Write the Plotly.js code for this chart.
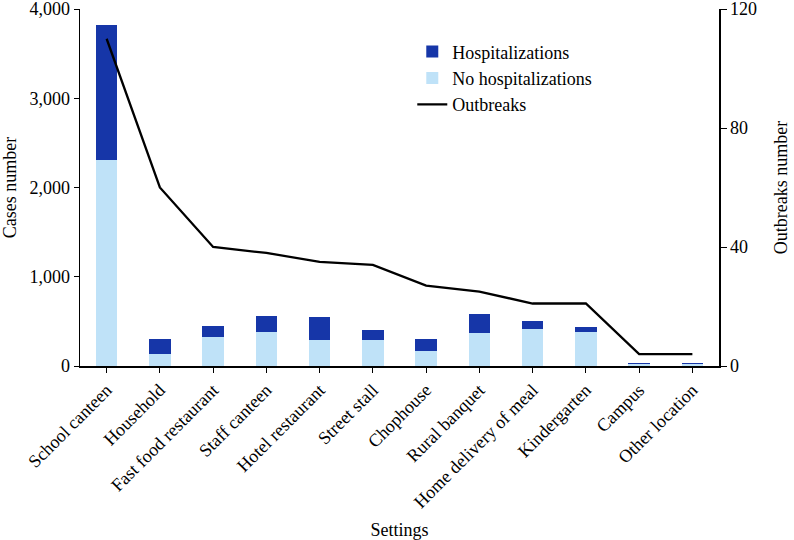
<!DOCTYPE html>
<html>
<head>
<meta charset="utf-8">
<script src="https://cdn.plot.ly/plotly-3.0.1.min.js"></script>
<style>html,body{margin:0;padding:0;background:#fff;}#chart{width:794px;height:540px;}</style>
</head>
<body>
<div id="chart"></div>
<script>
var settings = ["School canteen","Household","Fast food restaurant","Staff canteen","Hotel restaurant","Street stall","Chophouse","Rural banquet","Home delivery of meal","Kindergarten","Campus","Other location"];
var noHospitalizations = [2310, 135, 330, 385, 295, 288, 170, 365, 418, 385, 28, 22];
var hospitalizations = [1510, 165, 122, 175, 255, 112, 130, 215, 83, 52, 3, 8];
var outbreaks = [110, 60, 40, 38, 35, 34, 27, 25, 21, 21, 4, 4];

var fontFam = "'Liberation Serif', 'Times New Roman', Times, serif";

var traces = [
  {type:"bar", name:"No hospitalizations", x:settings, y:noHospitalizations, marker:{color:"#bfe2f8"}, width:0.4, legendrank:2},
  {type:"bar", name:"Hospitalizations", x:settings, y:hospitalizations, marker:{color:"#1636a8"}, width:0.4, legendrank:1},
  {type:"scatter", mode:"lines", name:"Outbreaks", x:settings, y:outbreaks, yaxis:"y2", line:{color:"#000", width:2.3}, legendrank:3}
];

var layout = {
  width:794, height:540,
  margin:{l:80, r:75, t:9, b:174},
  barmode:"stack",
  paper_bgcolor:"#fff", plot_bgcolor:"#fff",
  font:{family:fontFam, size:18, color:"#000"},
  showlegend:true,
  legend:{x:0.52, y:0.932, xanchor:"left", yanchor:"top", traceorder:"normal", bgcolor:"rgba(0,0,0,0)", font:{size:18, family:fontFam}, tracegroupgap:0, itemwidth:30},
  xaxis:{
    range:[-0.5, 11.5], tickangle:-45, showline:true, linecolor:"#000", linewidth:1.5,
    ticks:"outside", ticklen:5, tickcolor:"#000", showgrid:false, zeroline:false,
    tickfont:{size:18, family:fontFam},
    title:{text:"Settings", font:{size:18, family:fontFam}, standoff:12}
  },
  yaxis:{
    range:[0, 4000], tickvals:[0,1000,2000,3000,4000], tickformat:",d", ticklabeloverflow:"allow",
    showline:true, linecolor:"#000", linewidth:1.5, ticks:"outside", ticklen:5, tickcolor:"#000",
    showgrid:false, zeroline:false, tickfont:{size:18, family:fontFam},
    title:{text:"Cases number", font:{size:18, family:fontFam}, standoff:10}
  },
  yaxis2:{
    range:[0, 120], tickvals:[0,40,80,120], overlaying:"y", side:"right", ticklabeloverflow:"allow",
    showline:true, linecolor:"#000", linewidth:1.5, ticks:"outside", ticklen:6, tickcolor:"#000",
    showgrid:false, zeroline:false, tickfont:{size:18, family:fontFam},
    title:{text:"Outbreaks number", font:{size:18, family:fontFam}, standoff:18}
  }
};

Plotly.newPlot("chart", traces, layout, {displayModeBar:false, staticPlot:true});
</script>
</body>
</html>
